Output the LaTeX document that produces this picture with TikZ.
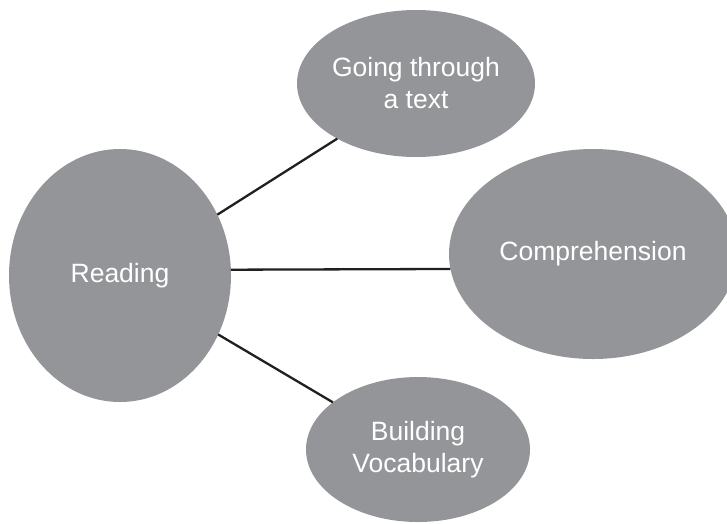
\documentclass[tikz,border=0pt]{standalone}
\usepackage{fontspec}
\setmainfont{Liberation Sans}
\usetikzlibrary{shapes.geometric}
\definecolor{bubble}{RGB}{147,149,152}
\definecolor{linkc}{RGB}{35,31,32}
\tikzset{
  bubble/.style={ellipse, fill=bubble, draw=none, inner sep=0pt, outer sep=0pt, align=center,
    text=white, font=\fontsize{26.5}{32}\selectfont},
  link/.style={draw=linkc, line width=2.3pt}
}
\begin{document}
\begin{tikzpicture}[x=1pt,y=-1pt]
\useasboundingbox (0,0) rectangle (727,523);
\node[bubble, minimum width=222pt, minimum height=253pt] (r) at (120,275.5) {Reading};
\node[bubble, minimum width=238pt, minimum height=147pt] (g) at (416,83.5) {Going through\\a text};
\node[bubble, minimum width=288pt, minimum height=210pt] (c) at (593,254) {Comprehension};
\node[bubble, minimum width=224pt, minimum height=145pt] (b) at (418,449.5) {Building\\Vocabulary};
\draw[link] (r.32.8) -- (g.215.4);
\draw[link] (r.3.0) -- (c.186.8);
\draw[link] (r.-31.7) -- (b.151.3);
\end{tikzpicture}
\end{document}
